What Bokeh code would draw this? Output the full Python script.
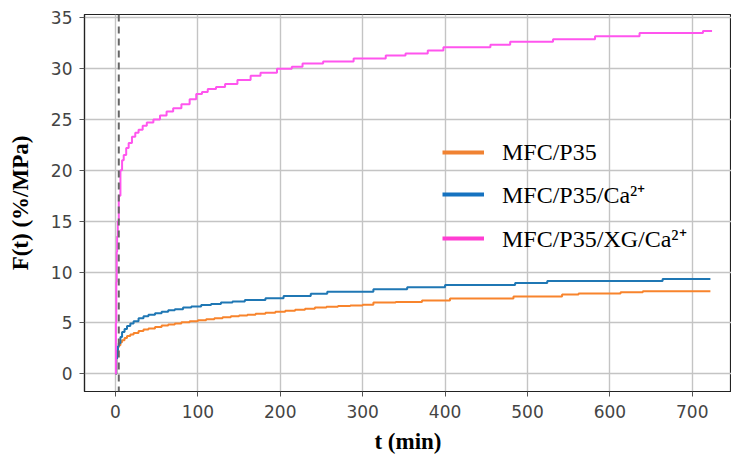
from bokeh.plotting import figure
from bokeh.models import Range1d, Span, Legend, LegendItem, FixedTicker
from bokeh.embed import file_html
from bokeh.resources import INLINE

# ---- data ----
t_mfc = [0, 1, 2, 3, 4, 6, 8, 11, 14, 18, 22, 28, 34, 40, 48, 56, 64, 72, 80, 90, 100,
         110, 120, 130, 140, 150, 160, 170, 182, 194, 206, 218, 230, 242, 256, 270, 285,
         300, 313, 340, 372, 406, 483, 542, 562, 613, 640, 722]
f_mfc = [0, 1.5, 2.2, 2.6, 2.8, 3.1, 3.3, 3.5, 3.7, 3.85, 4.0, 4.2, 4.35, 4.45, 4.6, 4.75,
         4.85, 4.95, 5.05, 5.15, 5.25, 5.35, 5.45, 5.55, 5.65, 5.72, 5.8, 5.9, 6.0, 6.1,
         6.2, 6.3, 6.4, 6.5, 6.58, 6.65, 6.72, 6.78, 7.0, 7.05, 7.2, 7.4, 7.6, 7.8, 7.9,
         8.0, 8.12, 8.12]

t_ca = [0, 1, 2, 3, 4, 6, 8, 11, 14, 18, 22, 28, 34, 40, 48, 56, 64, 72, 82, 92, 104, 116,
        128, 142, 157, 182, 204, 237, 257, 313, 354, 400, 485, 524, 664, 722]
f_ca = [0, 1.5, 2.3, 2.7, 3.0, 3.6, 4.1, 4.4, 4.7, 4.95, 5.15, 5.45, 5.65, 5.8, 5.95, 6.1,
        6.25, 6.35, 6.5, 6.6, 6.75, 6.85, 7.0, 7.1, 7.25, 7.42, 7.65, 7.87, 8.07, 8.3, 8.5,
        8.72, 8.92, 9.12, 9.31, 9.31]

t_xg = [0, 0.5, 1, 1.5, 2, 2.8, 4, 6, 8, 10, 13, 16, 20, 24, 28, 33, 38, 46, 54, 62, 70,
        80, 90, 98, 105, 112, 122, 133, 148, 164, 176, 196, 214, 227, 252, 289, 328, 352,
        379, 398, 455, 479, 531, 582, 636, 713, 724]
f_xg = [0, 5, 9, 12, 13.5, 15, 17.5, 20, 21, 21.5, 22.2, 22.7, 23.3, 23.7, 24.0, 24.4,
        24.7, 25.0, 25.4, 25.8, 26.1, 26.5, 27.0, 27.5, 27.7, 28.0, 28.2, 28.5, 28.9, 29.3,
        29.6, 30.0, 30.2, 30.5, 30.7, 31.0, 31.3, 31.5, 31.8, 32.1, 32.35, 32.65, 32.9,
        33.2, 33.5, 33.7, 33.7]

labels = ["MFC/P35", "MFC/P35/Ca\u00b2\u207a", "MFC/P35/XG/Ca\u00b2\u207a"]
colors = ["#f8842c", "#1f77b4", "#ff55ee"]
legend_colors = ["#f08232", "#1572c0", "#ff3dd2"]
x_ticks = [0, 100, 200, 300, 400, 500, 600, 700]
y_ticks = [0, 5, 10, 15, 20, 25, 30, 35]
t_marker = 4

p = figure(width=731, height=459, output_backend="svg", toolbar_location=None,
           x_range=Range1d(-37.6, 747.6), y_range=Range1d(-1.75, 35.33),
           min_border_left=84, min_border_top=14, min_border_bottom=68, min_border_right=0)

p.outline_line_color = "#222222"
p.outline_line_width = 1.2
p.background_fill_color = "white"

for ax in (p.xaxis[0], p.yaxis[0]):
    ax.axis_line_color = "#222222"
    ax.axis_line_width = 1.2
    ax.major_tick_line_color = "#555555"
    ax.major_tick_out = 5
    ax.major_tick_in = 0
    ax.minor_tick_line_color = None
    ax.major_label_text_font = "DejaVu Sans"
    ax.major_label_text_font_size = "17px"
    ax.major_label_text_color = "#444444"
    ax.axis_label_text_font = "Liberation Serif"
    ax.axis_label_text_font_style = "bold"
    ax.axis_label_text_font_size = "23px"
    ax.axis_label_text_color = "black"

p.xaxis.ticker = FixedTicker(ticks=x_ticks)
p.yaxis.ticker = FixedTicker(ticks=y_ticks)
p.xaxis.axis_label = "t (min)"
p.yaxis.axis_label = "F(t) (%/MPa)"
p.xaxis.major_label_standoff = 8
p.yaxis.major_label_standoff = 7
p.xaxis.axis_label_standoff = 8
p.yaxis.axis_label_standoff = 15

p.grid.grid_line_color = "#c4c4c4"
p.grid.grid_line_width = 1.4

p.step(t_mfc, f_mfc, mode="after", line_color=colors[0], line_width=2)
p.step(t_ca, f_ca, mode="after", line_color=colors[1], line_width=2)
p.step(t_xg, f_xg, mode="after", line_color=colors[2], line_width=2)

# legend swatches (thicker lines, nothing drawn in the plot)
nan = float("nan")
leg_r = [p.line([nan], [nan], line_color=c, line_width=4) for c in legend_colors]

p.add_layout(Span(location=t_marker, dimension="height", line_color="#666666",
                  line_width=2, line_dash="7 5"))

legend = Legend(items=[LegendItem(label=lab, renderers=[r]) for lab, r in zip(labels, leg_r)],
                location=(358, 137), border_line_color=None, background_fill_alpha=0,
                padding=0, margin=0, spacing=11, glyph_width=42, glyph_height=28,
                label_height=28, label_standoff=18,
                label_text_font="Liberation Serif", label_text_font_size="24px",
                label_text_color="black")
p.add_layout(legend)

open("out.html", "w").write(file_html(p, INLINE))
